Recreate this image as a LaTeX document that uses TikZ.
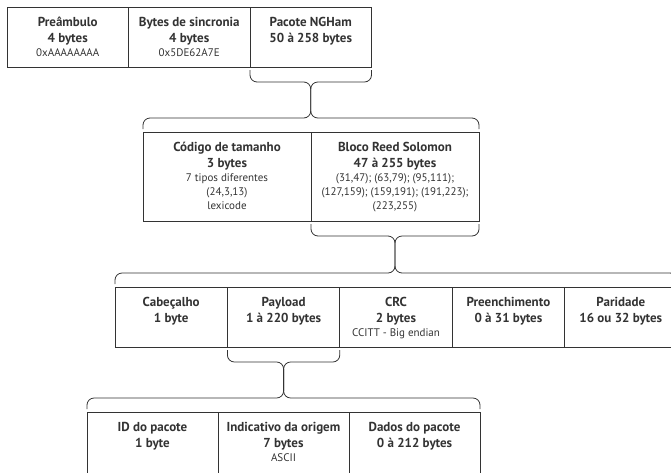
\documentclass[tikz,border=0pt]{standalone}
\usepackage{fontspec}
\setmainfont{PT Sans}
\usetikzlibrary{positioning,calc}

\definecolor{tinta}{HTML}{333333}

\newcommand{\grande}{\fontsize{13}{16.5}\selectfont\bfseries}
\newcommand{\pequeno}{\fontsize{11}{14}\selectfont\mdseries}
% caixa de largura/altura fixas, texto alinhado em cima
\newcommand{\caixa}[3]{\parbox[c][#2][t]{#1}{\centering\rule{0pt}{19pt}#3\par}}
% chave dupla: de baixo de um campo ate em cima da linha seguinte
\newcommand{\ligachave}[4]{%
  \draw[chave] ($(#1)+(0,3)$) |- ($(#1)!.5!(#2)+(0,15)$) |- ($(#3)+(0,-14)$) -- ($(#3)+(0,-3)$);
  \draw[chave] ($(#2)+(0,3)$) |- ($(#1)!.5!(#2)+(0,15)$) |- ($(#4)+(0,-14)$) -- ($(#4)+(0,-3)$);
}

\tikzset{
  campo/.style={draw=tinta, line width=0.9pt, inner sep=0pt, outer sep=0pt, anchor=north west},
  chave/.style={draw=tinta, line width=0.8pt, rounded corners=7pt},
}

\begin{document}
\begin{tikzpicture}[x=1pt, y=-1pt, text=tinta]
  \useasboundingbox (0,0) rectangle (671,472);

  % quadro NGHam
  \node[campo] (pream) at (7,7) {\caixa{121.5pt}{60pt}{\grande Preâmbulo\par 4 bytes\par\pequeno 0xAAAAAAAA}};
  \node[campo, right=0pt of pream] (sinc) {\caixa{121.5pt}{60pt}{\grande Bytes de sincronia\par 4 bytes\par\pequeno 0x5DE62A7E}};
  \node[campo, right=0pt of sinc] (pacote) {\caixa{121.5pt}{60pt}{\grande Pacote NGHam\par 50 à 258 bytes}};

  % pacote
  \node[campo] (tamanho) at (143,132) {\caixa{168pt}{89pt}{\grande Código de tamanho\par 3 bytes\par\pequeno 7 tipos diferentes\par (24,3,13)\par lexicode}};
  \node[campo, right=0pt of tamanho] (reedsol) {\caixa{168pt}{89pt}{\grande Bloco Reed Solomon\par 47 à 255 bytes\par\pequeno (31,47); (63,79); (95,111);\par (127,159); (159,191); (191,223);\par (223,255)}};

  % bloco RS
  \node[campo] (cabec) at (115,287) {\caixa{112.4pt}{60pt}{\grande Cabeçalho\par 1 byte}};
  \node[campo, right=0pt of cabec] (payload) {\caixa{112.4pt}{60pt}{\grande Payload\par 1 à 220 bytes}};
  \node[campo, right=0pt of payload] (crc) {\caixa{112.4pt}{60pt}{\grande CRC\par 2 bytes\par\pequeno CCITT - Big endian}};
  \node[campo, right=0pt of crc] (preench) {\caixa{112.4pt}{60pt}{\grande Preenchimento\par 0 à 31 bytes}};
  \node[campo, right=0pt of preench] (paridade) {\caixa{112.4pt}{60pt}{\grande Paridade\par 16 ou 32 bytes}};

  % payload
  \node[campo] (pktid) at (87,412) {\caixa{131pt}{64pt}{\grande ID do pacote\par 1 byte}};
  \node[campo, right=0pt of pktid] (origem) {\caixa{131pt}{64pt}{\grande Indicativo da origem\par 7 bytes\par\pequeno ASCII}};
  \node[campo, right=0pt of origem] (dados) {\caixa{131pt}{64pt}{\grande Dados do pacote\par 0 à 212 bytes}};

  \ligachave{pacote.south west}{pacote.south east}{tamanho.north west}{reedsol.north east}
  \ligachave{reedsol.south west}{reedsol.south east}{cabec.north west}{paridade.north east}
  \ligachave{payload.south west}{payload.south east}{pktid.north west}{dados.north east}
\end{tikzpicture}
\end{document}
